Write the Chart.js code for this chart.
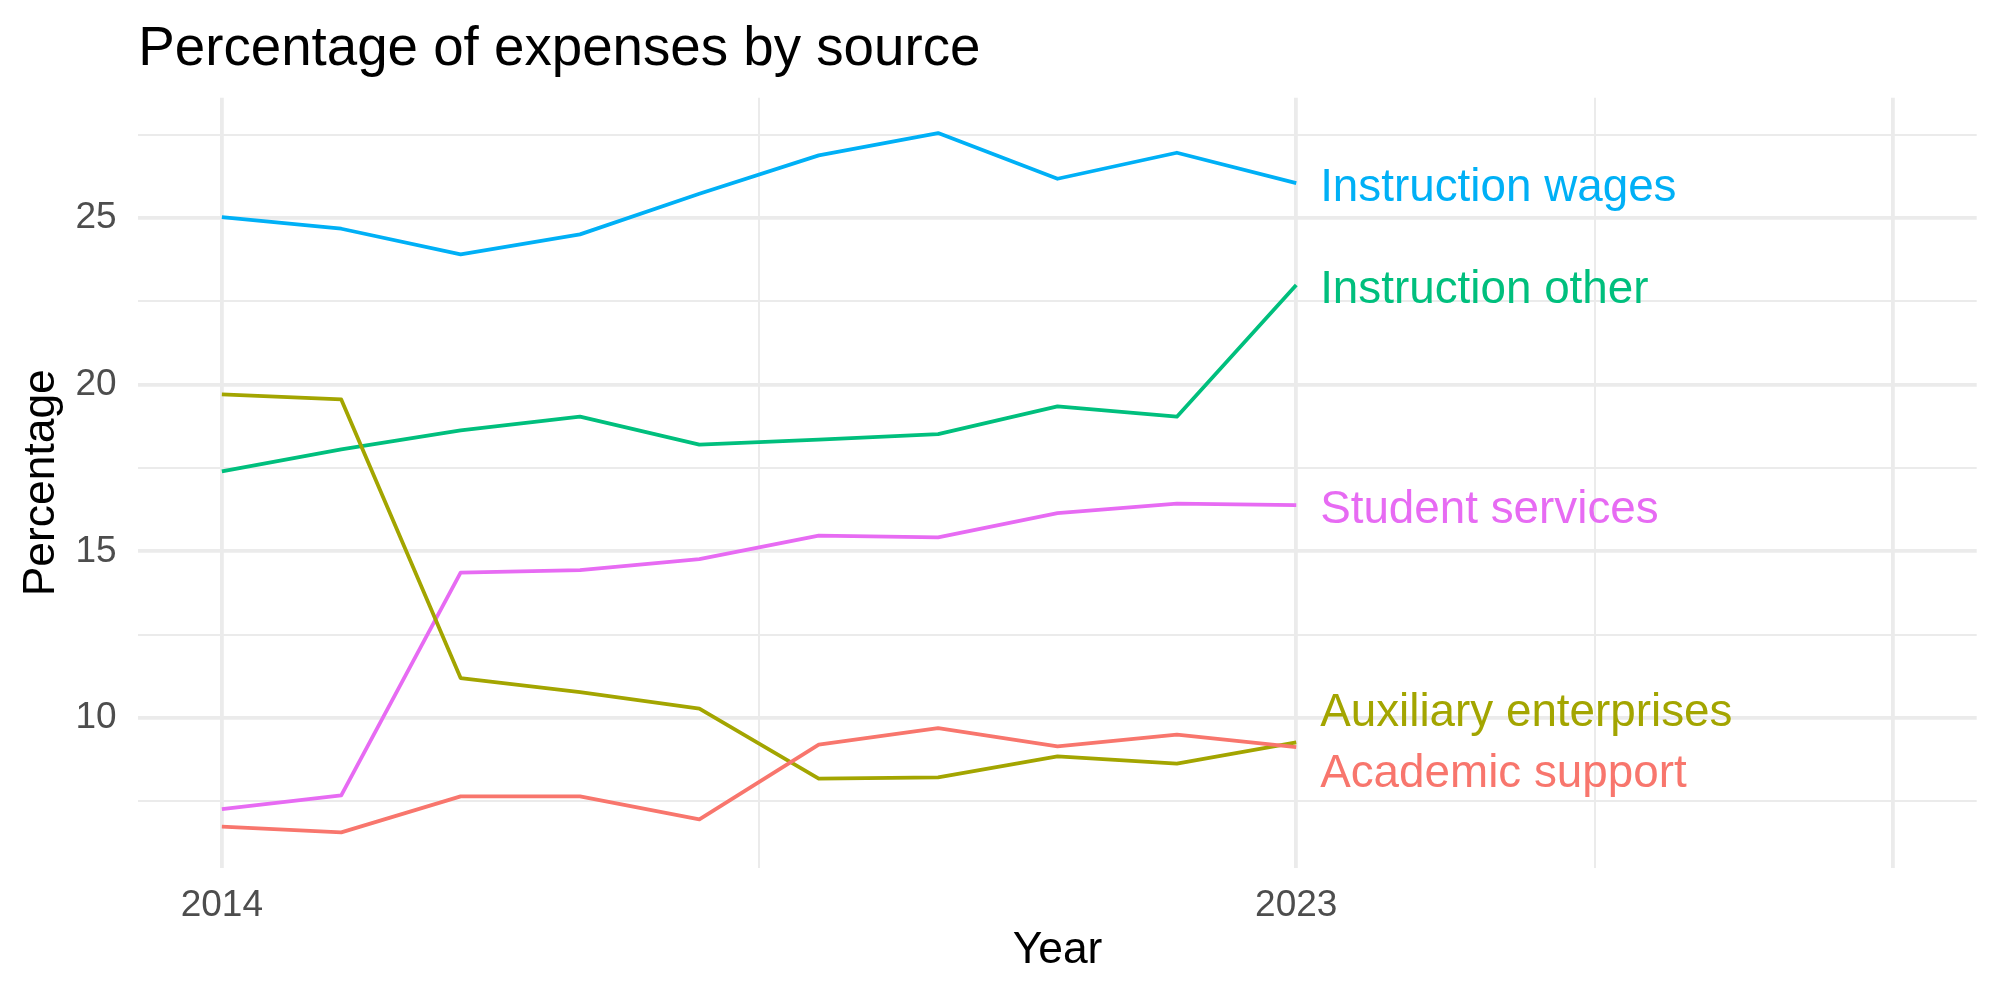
<!DOCTYPE html>
<html>
<head>
<meta charset="utf-8">
<script src="https://cdn.jsdelivr.net/npm/chart.js@4/dist/chart.umd.min.js"></script>
<style>
  html, body { margin: 0; padding: 0; background: #ffffff; }
  #wrap { width: 2000px; height: 1000px; position: relative; }
</style>
</head>
<body>
<div id="wrap"><canvas id="c" width="2000" height="1000"></canvas></div>
<script>
// ---- data ----
const years = [2014, 2015, 2016, 2017, 2018, 2019, 2020, 2021, 2022, 2023];

const seriesNames = ["Academic support", "Auxiliary enterprises", "Instruction other", "Instruction wages", "Student services"];

const academicSupport      = [6.74, 6.57, 7.65, 7.65, 6.96, 9.20, 9.70, 9.15, 9.50, 9.13];
const auxiliaryEnterprises = [19.71, 19.56, 11.20, 10.78, 10.28, 8.18, 8.22, 8.85, 8.63, 9.27];
const instructionOther     = [17.40, 18.06, 18.63, 19.04, 18.20, 18.35, 18.52, 19.35, 19.04, 22.99];
const instructionWages     = [25.03, 24.68, 23.91, 24.51, 25.73, 26.88, 27.55, 26.18, 26.96, 26.05];
const studentServices      = [7.27, 7.68, 14.36, 14.44, 14.77, 15.47, 15.42, 16.15, 16.43, 16.39];

// end-of-line label positions (data units)
const labelX = 2023.2;
const labelY = [8.47, 10.30, 22.99, 26.05, 16.39];

const seriesColors = ["#F8766D", "#A3A500", "#00BF7D", "#00B0F6", "#E76BF3"];

// axis breaks
const xMajorBreaks = [2014, 2023, 2028];
const xMinorBreaks = [2018.5, 2025.5];
const xTickLabels = { 2014: "2014", 2023: "2023" };
const yMajorBreaks = [10, 15, 20, 25];
const yMinorBreaks = [7.5, 12.5, 17.5, 22.5, 27.5];

// ---- chart ----
const allSeries = [academicSupport, auxiliaryEnterprises, instructionOther, instructionWages, studentServices];
const FONT = "'Liberation Sans', Arial, Helvetica, sans-serif";
const LABEL_SIZE = 45.8;

const datasets = allSeries.map((vals, i) => ({
  label: seriesNames[i],
  data: years.map((y, k) => ({ x: y, y: vals[k] })),
  borderColor: seriesColors[i],
  backgroundColor: seriesColors[i],
  borderWidth: 3.8,
  pointRadius: 0,
  pointHoverRadius: 0,
  tension: 0,
  fill: false,
  borderCapStyle: 'butt',
  borderJoinStyle: 'round'
}));

const endLabels = {
  id: 'endLabels',
  afterDatasetsDraw(chart) {
    const ctx = chart.ctx;
    const xs = chart.scales.x, ys = chart.scales.y;
    ctx.save();
    ctx.font = LABEL_SIZE + "px " + FONT;
    ctx.textAlign = 'left';
    ctx.textBaseline = 'alphabetic';
    seriesNames.forEach((name, i) => {
      ctx.fillStyle = seriesColors[i];
      // vertically centre the capitals on the value
      ctx.fillText(name, xs.getPixelForValue(labelX), ys.getPixelForValue(labelY[i]) + 0.36 * LABEL_SIZE + 1);
    });
    ctx.restore();
  }
};

function gridWidth(majors) {
  return (c) => (c.tick && majors.includes(c.tick.value)) ? 3.8 : 2;
}

new Chart(document.getElementById('c'), {
  type: 'line',
  data: { datasets },
  plugins: [endLabels],
  options: {
    responsive: false,
    animation: false,
    devicePixelRatio: 1,
    layout: { padding: { top: 0, left: 0, right: 23.3, bottom: 0 } },
    plugins: {
      legend: { display: false },
      tooltip: { enabled: false },
      title: {
        display: true,
        text: 'Percentage of expenses by source',
        align: 'start',
        fullSize: false,
        color: '#000000',
        font: { family: FONT, size: 54.7, weight: 'normal', lineHeight: 1.2 },
        padding: { top: 16.8, bottom: 15.3 }
      }
    },
    scales: {
      x: {
        type: 'linear',
        min: 2013.3,
        max: 2028.7,
        afterBuildTicks: (s) => { s.ticks = xMajorBreaks.concat(xMinorBreaks).sort((a, b) => a - b).map(v => ({ value: v })); },
        afterFit: (s) => { s.height = 132.3; },
        grid: { color: '#EBEBEB', lineWidth: gridWidth(xMajorBreaks), drawTicks: false },
        border: { display: false },
        ticks: {
          autoSkip: false, maxRotation: 0, minRotation: 0,
          padding: 15.4,
          color: '#4D4D4D',
          font: { family: FONT, size: 37 },
          callback: (v) => xTickLabels[v] || ''
        },
        title: {
          display: true, text: 'Year', color: '#000000',
          font: { family: FONT, size: 44.4, lineHeight: 1.2 },
          padding: { top: 0, bottom: 22.4 }
        }
      },
      y: {
        type: 'linear',
        min: 5.51,
        max: 28.61,
        afterBuildTicks: (s) => { s.ticks = yMajorBreaks.concat(yMinorBreaks).sort((a, b) => a - b).map(v => ({ value: v })); },
        afterFit: (s) => { s.width = 138.3; },
        grid: { color: '#EBEBEB', lineWidth: gridWidth(yMajorBreaks), drawTicks: false },
        border: { display: false },
        ticks: {
          autoSkip: false,
          padding: 21.6,
          color: '#4D4D4D',
          font: { family: FONT, size: 37 },
          callback: (v) => yMajorBreaks.includes(v) ? String(v) : ''
        },
        title: {
          display: true, text: 'Percentage', color: '#000000',
          font: { family: FONT, size: 44.4, lineHeight: 1.2 },
          padding: { top: 15.4, bottom: 0 }
        }
      }
    }
  }
});
</script>
</body>
</html>
